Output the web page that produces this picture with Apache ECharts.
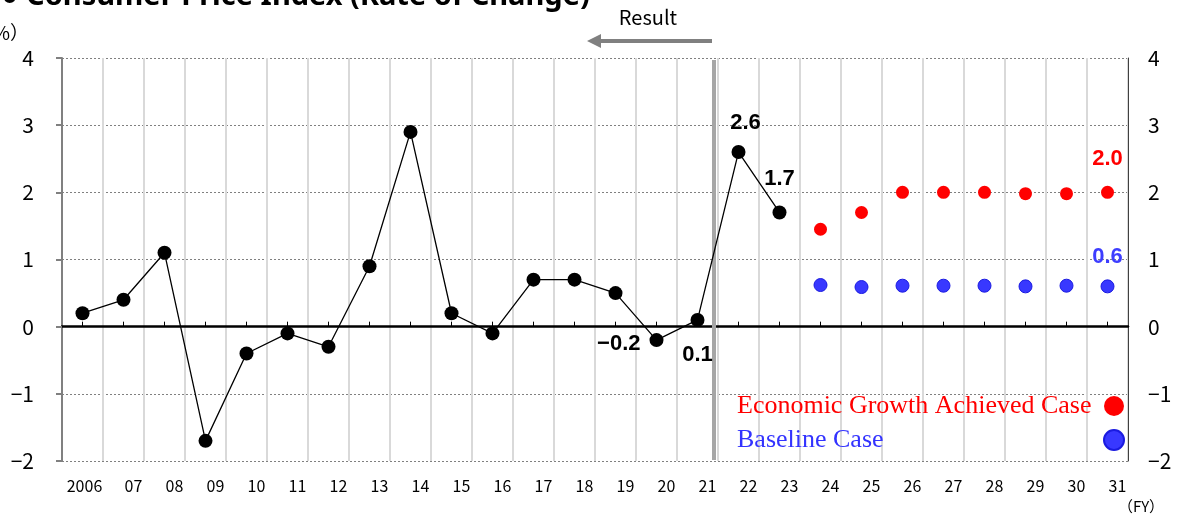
<!DOCTYPE html>
<html>
<head>
<meta charset="utf-8">
<script src="https://cdn.jsdelivr.net/npm/echarts@6/dist/echarts.min.js"></script>
<style>
  html, body { margin: 0; padding: 0; background: #fff; }
  #chart { width: 1184px; height: 517px; }
</style>
</head>
<body>
<div id="chart"></div>
<script>
// Fiscal years on the category axis
const years = ['2006', '07', '08', '09', '10', '11', '12', '13', '14', '15', '16', '17', '18', '19', '20', '21', '22', '23', '24', '25', '26', '27', '28', '29', '30', '31'];

// Actual CPI change (%), FY2006–FY2023
const resultValues = [0.2, 0.4, 1.1, -1.7, -0.4, -0.1, -0.3, 0.9, 2.9, 0.2, -0.1, 0.7, 0.7, 0.5, -0.2, 0.1, 2.6, 1.7];

// Projections, FY2024–FY2031
const growthValues = [1.45, 1.7, 2.0, 2.0, 2.0, 1.98, 1.98, 2.0];
const baselineValues = [0.62, 0.59, 0.61, 0.61, 0.61, 0.6, 0.61, 0.6];

// Y axis tick values
const yTicks = [-2, -1, 0, 1, 2, 3, 4];

const seriesNames = ['Economic Growth Achieved Case', 'Baseline Case'];

const projStart = years.length - growthValues.length;

const fmtNum = v => (v < 0 ? '\u2212' : '') + Math.abs(v).toFixed(1);
const fmtTick = v => (v < 0 ? '\u2212' : '') + Math.abs(v);

const labelFont = { fontFamily: 'Liberation Sans', fontWeight: 'bold', fontSize: 22 };

// Which points carry a value label, and where
const resultLabels = {
  '20': { position: 'left', distance: 9, offset: [0, 4] },
  '21': { position: 'bottom', distance: 17 },
  '22': { position: 'top', distance: 11, offset: [7, 0] },
  '23': { position: 'top', distance: 16 }
};
const growthLabels = { '31': { position: 'top', distance: 16 } };
const baselineLabels = { '31': { position: 'top', distance: 11 } };

function buildData(values, offset, labels, color) {
  const out = years.map(() => null);
  values.forEach((v, i) => {
    const yr = years[i + offset];
    const lab = labels[yr];
    out[i + offset] = lab ? {
      value: v,
      label: Object.assign({ show: true, color: color, formatter: p => fmtNum(p.value) }, labelFont, lab)
    } : v;
  });
  return out;
}

const chart = echarts.init(document.getElementById('chart'), null, { renderer: 'canvas' });

const legendRich = {
  g: { fontFamily: 'Liberation Serif', fontSize: 26, color: '#ff0000', width: 362, align: 'left', lineHeight: 22 },
  b: { fontFamily: 'Liberation Serif', fontSize: 26, color: '#3333ff', width: 362, align: 'left', lineHeight: 22 }
};

chart.setOption({
  animation: false,
  title: {
    text: '\u25CF Consumer Price Index (Rate of Change)',
    left: -4,
    top: -23,
    textStyle: { fontFamily: 'Noto Sans', fontWeight: 'bold', fontSize: 29, color: '#000' }
  },
  legend: {
    orient: 'vertical',
    align: 'right',
    left: 732,
    top: 388,
    itemGap: 8,
    itemWidth: 20,
    itemHeight: 20,
    icon: 'circle',
    data: seriesNames,
    formatter: name => name === seriesNames[0] ? '{g|' + name + '}' : '{b|' + name + '}',
    textStyle: { rich: legendRich }
  },
  grid: { left: 62, right: 56, top: 58, bottom: 56, containLabel: false },
  xAxis: [
    {
      type: 'category',
      data: years,
      boundaryGap: true,
      axisLine: { show: false, onZero: false },
      axisTick: { show: false },
      axisLabel: {
        interval: 0,
        margin: 17,
        formatter: (v, i) => i === 0 ? '{f|' + v + '}' : '{n|' + v + '}',
        rich: {
          f: { fontFamily: 'Noto Sans CJK JP', fontSize: 16, color: '#000', padding: [0, 0, 0, 4] },
          n: { fontFamily: 'Noto Sans CJK JP', fontSize: 16, color: '#000', padding: [0, 0, 0, 20] }
        }
      },
      splitLine: { show: true, interval: 0, lineStyle: { color: '#d9d9d9', width: 2 } }
    },
    {
      type: 'category',
      data: years,
      boundaryGap: true,
      position: 'bottom',
      axisLine: { show: true, onZero: true, lineStyle: { color: '#000', width: 2.5 } },
      axisTick: { show: true, inside: true, alignWithLabel: true, interval: 0, length: 5, lineStyle: { color: '#000', width: 1 } },
      axisLabel: { show: false },
      splitLine: { show: false }
    }
  ],
  yAxis: [
    {
      type: 'value',
      min: yTicks[0],
      max: yTicks[yTicks.length - 1],
      interval: 1,
      axisLine: { show: true, lineStyle: { color: '#808080', width: 2 } },
      axisTick: { show: true, length: 6, lineStyle: { color: '#808080', width: 2 } },
      axisLabel: { margin: 28, fontFamily: 'Noto Sans CJK JP', fontSize: 21, color: '#000', formatter: fmtTick },
      splitLine: { show: true, lineStyle: { color: '#808080', width: 1, type: [2, 2] } }
    },
    {
      type: 'value',
      position: 'right',
      min: yTicks[0],
      max: yTicks[yTicks.length - 1],
      interval: 1,
      axisLine: { show: true, lineStyle: { color: '#404040', width: 1 } },
      axisTick: { show: false },
      axisLabel: { margin: 20, fontFamily: 'Noto Sans CJK JP', fontSize: 21, color: '#000', formatter: fmtTick },
      splitLine: { show: false }
    }
  ],
  series: [
    {
      name: 'Result',
      type: 'line',
      xAxisIndex: 0,
      yAxisIndex: 0,
      data: buildData(resultValues, 0, resultLabels, '#000'),
      symbol: 'circle',
      symbolSize: 14,
      lineStyle: { color: '#000', width: 1.3 },
      itemStyle: { color: '#000' },
      connectNulls: false,
      z: 5
    },
    {
      name: seriesNames[0],
      type: 'scatter',
      xAxisIndex: 0,
      yAxisIndex: 0,
      data: buildData(growthValues, projStart, growthLabels, '#ff0000'),
      symbol: 'circle',
      symbolSize: 13,
      itemStyle: { color: '#ff0000', opacity: 1 },
      z: 5
    },
    {
      name: seriesNames[1],
      type: 'scatter',
      xAxisIndex: 0,
      yAxisIndex: 0,
      data: buildData(baselineValues, projStart, baselineLabels, '#3d3dff'),
      symbol: 'circle',
      symbolSize: 13,
      itemStyle: { color: '#3838ff', borderColor: '#1a1ae0', borderWidth: 1, opacity: 1 },
      z: 5
    }
  ]
});

// Divider between actual results and projections, plus the "Result" arrow and unit labels
function drawOverlay() {
  const cur = chart.convertToPixel({ xAxisIndex: 0 }, projStart - 3);
  const next = chart.convertToPixel({ xAxisIndex: 0 }, projStart - 2);
  const dividerX = Math.round(cur + (next - cur) * 0.4);
  const topY = chart.convertToPixel({ yAxisIndex: 0 }, yTicks[yTicks.length - 1]);
  const botY = chart.convertToPixel({ yAxisIndex: 0 }, yTicks[0]);
  chart.setOption({
    graphic: [
      {
        type: 'line', z: 3,
        shape: { x1: dividerX, y1: topY + 2, x2: dividerX, y2: botY - 1 },
        style: { stroke: '#a6a6a6', lineWidth: 4 }
      },
      {
        type: 'line', z: 3,
        shape: { x1: dividerX - 2, y1: 41, x2: 598, y2: 41 },
        style: { stroke: '#808080', lineWidth: 4 }
      },
      {
        type: 'polygon', z: 3,
        shape: { points: [[587, 41], [601, 34], [601, 48]] },
        style: { fill: '#808080' }
      },
      {
        type: 'text', z: 3, x: 648, y: 17,
        style: { text: 'Result', align: 'center', verticalAlign: 'middle', fontFamily: 'Noto Sans CJK JP', fontSize: 20, fill: '#000' }
      },
      {
        type: 'text', z: 3, x: 29, y: 33,
        style: { text: '\uFF08%\uFF09', align: 'right', verticalAlign: 'middle', fontFamily: 'Noto Sans CJK JP', fontSize: 19, fill: '#000' }
      },
      {
        type: 'text', z: 3, x: 1141, y: 506,
        style: { text: '\uFF08FY\uFF09', align: 'center', verticalAlign: 'middle', fontFamily: 'Noto Sans CJK JP', fontSize: 15, fill: '#000' }
      }
    ]
  });
}
drawOverlay();
</script>
</body>
</html>
